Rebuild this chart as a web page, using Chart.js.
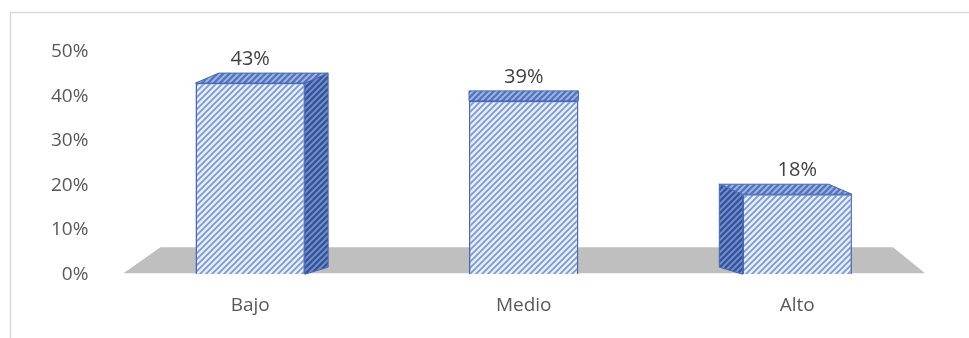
<!DOCTYPE html>
<html>
<head>
<meta charset="utf-8">
<style>
  html, body { margin: 0; padding: 0; background: #fff; }
  #wrap { width: 969px; height: 338px; }
</style>
<script src="https://cdn.jsdelivr.net/npm/chart.js@4.4.1/dist/chart.umd.min.js"></script>
</head>
<body>
<div id="wrap"><canvas id="chart" width="969" height="338"></canvas></div>
<script>
const categories = ['Bajo', 'Medio', 'Alto'];
const percentValues = [0.43, 0.39, 0.18];
const tickValues = [0, 0.1, 0.2, 0.3, 0.4, 0.5];

// striped fill like the excel pattern
function makeHatch(bg, fg) {
    const c = document.createElement('canvas');
    c.width = 6; c.height = 6;
    const g = c.getContext('2d');
    g.fillStyle = bg;
    g.fillRect(0, 0, 6, 6);
    g.strokeStyle = fg;
    g.lineWidth = 1.8;
    g.beginPath();
    g.moveTo(-1, 7); g.lineTo(7, -1);
    g.moveTo(-4, 4); g.lineTo(4, -4);
    g.moveTo(2, 10); g.lineTo(10, 2);
    g.stroke();
    return g.createPattern(c, 'repeat');
}

const ctx = document.getElementById('chart').getContext('2d');
const frontFill = makeHatch('#e9effa', '#7b99d6');
const sideFill = makeHatch('#34559e', '#7791c9');
const topFill = makeHatch('#5575bd', '#a3b8e3');
const edgeColor = '#4768b5';

const depthY = -10;

function barDepthX(chart, bar) {
    const mid = (chart.chartArea.left + chart.chartArea.right) / 2;
    return (mid - bar.x) * 0.085;
}

function poly(c, pts, fill) {
    c.beginPath();
    c.moveTo(pts[0][0], pts[0][1]);
    for (let i = 1; i < pts.length; i++) c.lineTo(pts[i][0], pts[i][1]);
    c.closePath();
    c.fillStyle = fill;
    c.fill();
    c.strokeStyle = edgeColor;
    c.lineWidth = 1;
    c.stroke();
}

const frame3d = {
    id: 'frame3d',
    beforeDraw(chart) {
        const c = chart.ctx;
        c.save();
        c.strokeStyle = '#d9d9d9';
        c.lineWidth = 1.5;
        c.beginPath();
        c.moveTo(10.5, chart.height);
        c.lineTo(10.5, 12.5);
        c.lineTo(chart.width, 12.5);
        c.stroke();
        c.restore();
    },
    beforeDatasetsDraw(chart) {
        const c = chart.ctx;
        const area = chart.chartArea;
        const y0 = chart.scales.y.getPixelForValue(0);
        c.save();
        // floor
        c.beginPath();
        c.moveTo(area.left + 10, y0 - 1);
        c.lineTo(area.right - 9, y0 - 1);
        c.lineTo(area.right - 41, y0 - 27);
        c.lineTo(area.left + 47, y0 - 27);
        c.closePath();
        c.fillStyle = '#bfbfbf';
        c.fill();
        // side and top faces
        chart.getDatasetMeta(0).data.forEach(el => {
            const b = el.getProps(['x', 'y', 'base', 'width'], true);
            const dx = barDepthX(chart, b);
            const l = b.x - b.width / 2, r = b.x + b.width / 2;
            if (dx > 0.5) {
                poly(c, [[r, b.y], [r + dx, b.y + depthY], [r + dx, b.base + depthY + 3], [r, b.base]], sideFill);
            } else if (dx < -0.5) {
                poly(c, [[l, b.y], [l + dx, b.y + depthY], [l + dx, b.base + depthY + 3], [l, b.base]], sideFill);
            }
            poly(c, [[l, b.y], [r, b.y], [r + dx, b.y + depthY], [l + dx, b.y + depthY]], topFill);
        });
        c.restore();
    },
    afterDatasetsDraw(chart) {
        const c = chart.ctx;
        c.save();
        c.font = '20px "Open Sans"';
        c.fillStyle = '#404040';
        c.textAlign = 'center';
        c.textBaseline = 'middle';
        chart.getDatasetMeta(0).data.forEach((el, i) => {
            const b = el.getProps(['x', 'y'], true);
            c.fillText(Math.round(percentValues[i] * 100) + '%', b.x, b.y - 24);
        });
        c.restore();
    }
};

new Chart(ctx, {
    type: 'bar',
    data: {
        labels: categories,
        datasets: [{
            data: percentValues,
            backgroundColor: frontFill,
            borderColor: edgeColor,
            borderWidth: 1.5,
            categoryPercentage: 0.8,
            barPercentage: 0.5
        }]
    },
    options: {
        responsive: false,
        animation: false,
        layout: { padding: { left: 26, right: 35, top: 52, bottom: 1 } },
        plugins: { legend: { display: false }, tooltip: { enabled: false } },
        scales: {
            x: {
                grid: { display: false, drawTicks: false },
                border: { display: false },
                ticks: { padding: 20, color: '#595959', font: { family: 'Open Sans', size: 19 } }
            },
            y: {
                min: 0,
                max: 0.5,
                afterBuildTicks: axis => { axis.ticks = tickValues.map(v => ({ value: v })); },
                grid: { display: false, drawTicks: false },
                border: { display: false },
                ticks: {
                    padding: 25,
                    color: '#595959',
                    font: { family: 'Open Sans', size: 19 },
                    callback: v => Math.round(v * 100) + '%'
                }
            }
        }
    },
    plugins: [frame3d]
});
</script>
</body>
</html>
